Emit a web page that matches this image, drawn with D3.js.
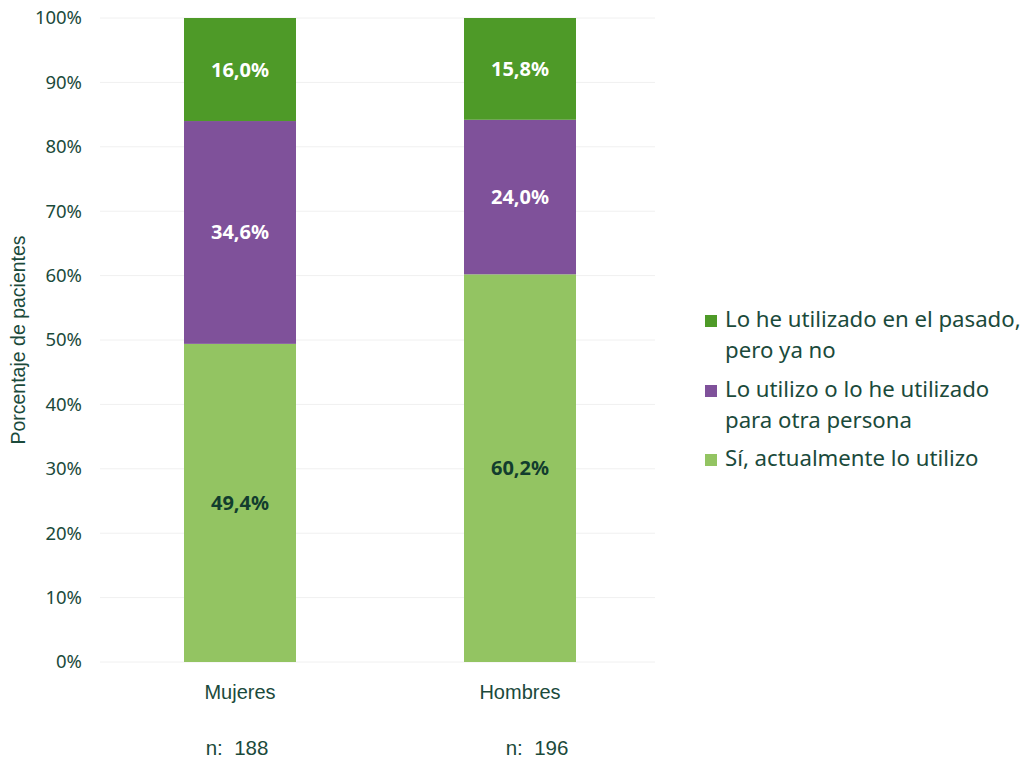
<!DOCTYPE html>
<html><head><meta charset="utf-8">
<script src="https://cdn.jsdelivr.net/npm/d3@7"></script>
<style>body{margin:0;background:#fff}svg{display:block}</style>
</head><body>
<svg id="c" width="1026" height="760"></svg>
<script>
const categories = ["Mujeres", "Hombres"];
const sampleSizes = ["n:  188", "n:  196"];
const seriesNames = ["Sí, actualmente lo utilizo", "Lo utilizo o lo he utilizado para otra persona", "Lo he utilizado en el pasado, pero ya no"];
const actual = [49.4, 60.2];
const otraPersona = [34.6, 24.0];
const pasado = [16.0, 15.8];
const valueLabels = [["49,4%", "60,2%"], ["34,6%", "24,0%"], ["16,0%", "15,8%"]];
const yTicks = [0, 10, 20, 30, 40, 50, 60, 70, 80, 90, 100];
const legendLines = [["Lo he utilizado en el pasado,", "pero ya no"], ["Lo utilizo o lo he utilizado", "para otra persona"], ["Sí, actualmente lo utilizo"]];

const colors = ["#93c462", "#7f519a", "#4e9a28"];
const labelColors = ["#123d2e", "#ffffff", "#ffffff"];
const textColor = "#1b4a3b";
const font = "'Noto Sans', 'Open Sans', sans-serif";
const arial = "'Liberation Sans', Arial, sans-serif";

const svg = d3.select("#c");
const x = d3.scalePoint().domain(categories).range([100, 660]).padding(0.5);
const y = d3.scaleLinear().domain([0, 100]).range([662, 18]);
const barW = 112;

// gridlines
svg.append("g").selectAll("line").data(yTicks).join("line")
  .attr("x1", 100).attr("x2", 655)
  .attr("y1", d => y(d)).attr("y2", d => y(d))
  .attr("stroke", "#f0f0f0").attr("stroke-width", 1);

// y axis labels
const yAxis = d3.axisLeft(y).tickValues(yTicks).tickFormat(d => d + "%").tickSize(0).tickPadding(0);
const ya = svg.append("g").attr("transform", "translate(82,0)").call(yAxis);
ya.select(".domain").remove();
ya.selectAll("text").attr("font-family", font).attr("font-size", 18.5).attr("fill", textColor);

// stacked data
const series = [actual, otraPersona, pasado];
const stackData = categories.map((c, i) => {
  const o = {cat: c};
  series.forEach((s, k) => o["s" + k] = s[i]);
  return o;
});
const stack = d3.stack().keys(["s0", "s1", "s2"]);
const stacked = stack(stackData);

stacked.forEach((layer, k) => {
  const g = svg.append("g");
  g.selectAll("rect").data(layer).join("rect")
    .attr("x", d => x(d.data.cat) - barW / 2)
    .attr("width", barW)
    .attr("y", d => y(d[1]))
    .attr("height", d => y(d[0]) - y(d[1]))
    .attr("fill", colors[k]);
  g.selectAll("text").data(layer).join("text")
    .attr("x", d => x(d.data.cat))
    .attr("y", d => (y(d[0]) + y(d[1])) / 2)
    .attr("dy", "0.35em")
    .attr("text-anchor", "middle")
    .attr("font-family", font).attr("font-weight", "bold").attr("font-size", 20)
    .attr("fill", labelColors[k])
    .text((d, i) => valueLabels[k][i]);
});

// category labels
svg.append("g").selectAll("text").data(categories).join("text")
  .attr("x", d => x(d)).attr("y", 699)
  .attr("text-anchor", "middle")
  .attr("font-family", arial).attr("font-size", 20)
  .attr("fill", textColor).text(d => d);

// n labels
svg.append("g").selectAll("text").data(sampleSizes).join("text")
  .attr("x", (d, i) => x(categories[i]) + (i === 0 ? -3 : 17)).attr("y", 755)
  .attr("text-anchor", "middle")
  .attr("font-family", arial).attr("font-size", 20.5)
  .attr("fill", textColor).style("white-space", "pre").text(d => d);

// axis title
svg.append("text")
  .attr("transform", "translate(25,340) rotate(-90)")
  .attr("text-anchor", "middle")
  .attr("font-family", arial).attr("font-size", 19.5)
  .attr("fill", textColor).text("Porcentaje de pacientes");

// legend
const legendY = [327, 397, 466];
const legendColors = [colors[2], colors[1], colors[0]];
const lg = svg.append("g");
legendLines.forEach((lines, i) => {
  lg.append("rect").attr("x", 705).attr("y", legendY[i] - 12).attr("width", 12).attr("height", 12)
    .attr("fill", legendColors[i]);
  lines.forEach((t, j) => {
    lg.append("text").attr("x", 725).attr("y", legendY[i] + j * 31)
      .attr("font-family", font).attr("font-size", 22.2)
      .attr("fill", textColor).text(t);
  });
});
</script>
</body></html>
